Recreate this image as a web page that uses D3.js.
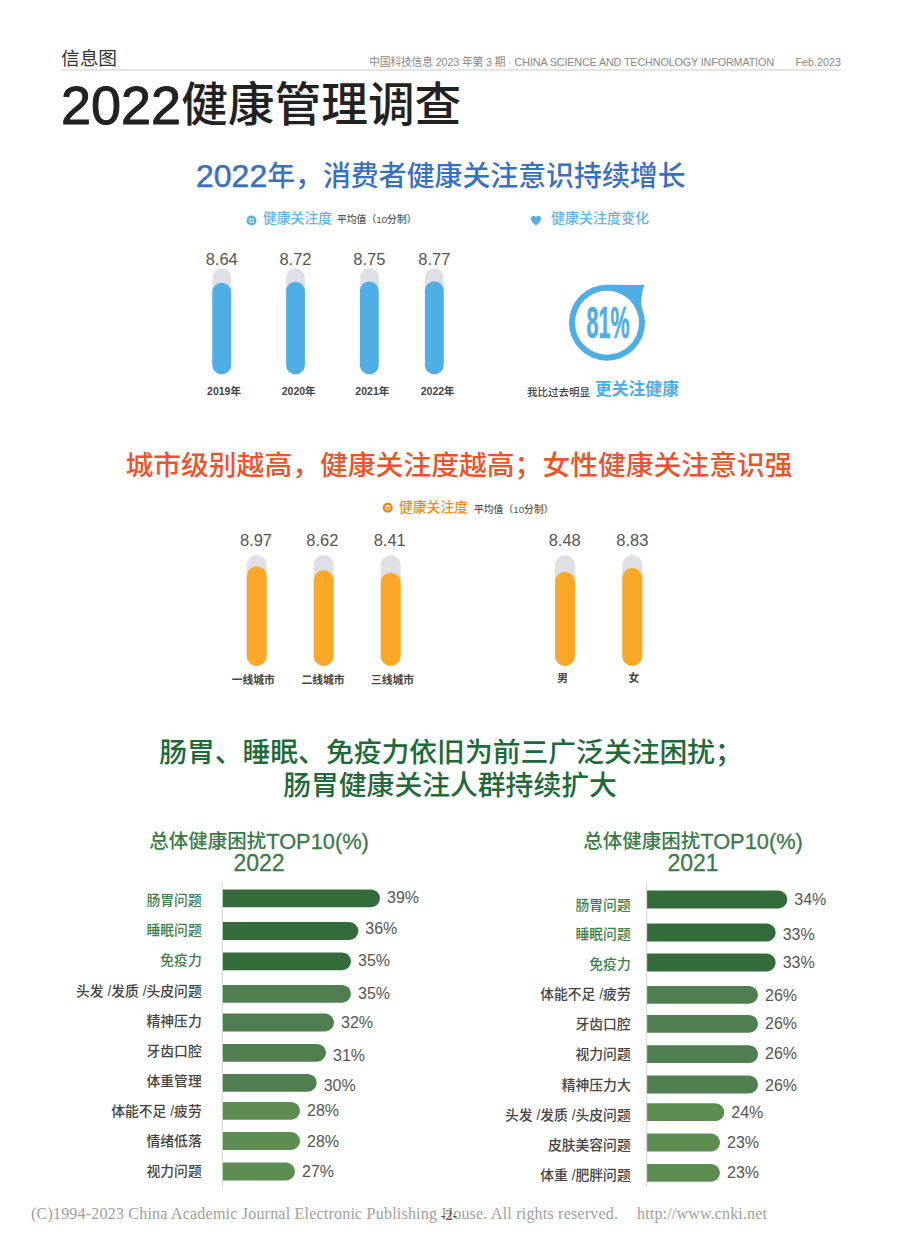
<!DOCTYPE html>
<html>
<head>
<meta charset="utf-8">
<script src="https://cdn.jsdelivr.net/npm/d3@7/dist/d3.min.js"></script>
<style>
html, body { margin: 0; padding: 0; background: #fff; }
svg { display: block; }
text { font-family: "Liberation Sans", "Noto Sans CJK SC", sans-serif; dominant-baseline: central; }
.num { fill: #555; font-size: 16.5px; }
</style>
</head>
<body>
<div id="page"></div>
<script>
// –––––––––––––––––– DATA ––––––––––––––––––
var years = ["2019年", "2020年", "2021年", "2022年"];
var yearScores = [8.64, 8.72, 8.75, 8.77];

var cityLevels = ["一线城市", "二线城市", "三线城市"];
var cityScores = [8.97, 8.62, 8.41];
var genders = ["男", "女"];
var genderScores = [8.48, 8.83];

var moreCareShare = 81;

var issues2022 = ["肠胃问题", "睡眠问题", "免疫力", "头发 /发质 /头皮问题", "精神压力", "牙齿口腔", "体重管理", "体能不足 /疲劳", "情绪低落", "视力问题"];
var shares2022 = [39, 36, 35, 35, 32, 31, 30, 28, 28, 27];
var issues2021 = ["肠胃问题", "睡眠问题", "免疫力", "体能不足 /疲劳", "牙齿口腔", "视力问题", "精神压力大", "头发 /发质 /头皮问题", "皮肤美容问题", "体重 /肥胖问题"];
var shares2021 = [34, 33, 33, 26, 26, 26, 26, 24, 23, 23];

// –––––––––––––––––– SVG SETUP ––––––––––––––––––
var svgWidth = 920;
var svgHeight = 1249;
var svg = d3.select("#page").append("svg")
	.attr("width", svgWidth)
	.attr("height", svgHeight);

function label(x, y, str, size, color, anchor, weight) {
	return svg.append("text")
		.attr("x", x).attr("y", y)
		.attr("font-size", size)
		.attr("fill", color)
		.attr("text-anchor", anchor || "start")
		.attr("font-weight", weight || 400)
		.text(str);
}

// same line, latin and chinese runs at their own sizes (the source headings mix them)
// third item thickens the latin run, Liberation has no medium weight
function mixed(x, y, parts, color, anchor, weight) {
	var t = label(x, y, "", parts[0][1], color, anchor, weight);
	parts.forEach(p => {
		var s = t.append("tspan").attr("font-size", p[1]).text(p[0]);
		if (p[2]) s.attr("stroke", color).attr("stroke-width", p[2]);
	});
	return t;
}

// –––––––––––––––––– HEADER ––––––––––––––––––
label(61, 58, "信息图", 18.7, "#333");
label(369, 61.7, "中国科技信息 2023 年第 3 期 · CHINA SCIENCE AND TECHNOLOGY INFORMATION", 10.8, "#888").attr("textLength", 405);
label(841, 61.7, "Feb.2023", 10.8, "#888", "end");
svg.append("line").attr("x1", 61).attr("x2", 841).attr("y1", 70).attr("y2", 70).attr("stroke", "#ccc");
mixed(61, 105, [["2022", 54, 1], ["健康管理调查", 46.7]], "#222", "start", 500);

// –––––––––––––––––– GAUGE COLUMNS ––––––––––––––––––
var scoreFormat = d3.format(".2f");

// track + fill pill for every category; the x scales are ordinal because the source columns are unevenly spaced
function gauges(opts) {
	var y = d3.scaleLinear().domain([0, 10]).range(opts.yRange);
	var x = d3.scaleOrdinal().domain(opts.cats).range(opts.xs);
	var xCat = d3.scaleOrdinal().domain(opts.cats).range(opts.catXs);
	var xVal = d3.scaleOrdinal().domain(opts.cats).range(opts.valXs);
	var g = svg.append("g");
	var w = opts.barWidth;

	g.selectAll(".track").data(opts.cats).enter().append("rect")
		.attr("x", d => x(d) - w / 2).attr("width", w)
		.attr("y", y(10)).attr("height", y(0) - y(10))
		.attr("rx", w / 2)
		.attr("fill", "#dfdfe6");

	g.selectAll(".fill").data(opts.cats).enter().append("rect")
		.attr("x", d => x(d) - w / 2).attr("width", w)
		.attr("y", (d, i) => y(opts.vals[i])).attr("height", (d, i) => y(0) - y(opts.vals[i]))
		.attr("rx", w / 2)
		.attr("fill", opts.color);

	g.selectAll(".num").data(opts.cats).enter().append("text")
		.attr("class", "num")
		.attr("x", xVal).attr("y", opts.valY)
		.attr("text-anchor", "middle")
		.text((d, i) => scoreFormat(opts.vals[i]));

	g.selectAll(".cat").data(opts.cats).enter().append("text")
		.attr("x", xCat).attr("y", opts.catY)
		.attr("text-anchor", "middle")
		.attr("font-size", opts.catSize)
		.attr("font-weight", 700)
		.attr("fill", "#444")
		.text(d => d);
}

function eyeIcon(cx, cy, color) {
	svg.append("circle").attr("cx", cx).attr("cy", cy).attr("r", 5).attr("fill", color);
	svg.append("circle").attr("cx", cx).attr("cy", cy).attr("r", 2.6).attr("fill", "#fff");
	svg.append("circle").attr("cx", cx).attr("cy", cy).attr("r", 1.5).attr("fill", color);
}

// blue block
mixed(196, 176, [["2022", 32, 0.5], ["年，消费者健康关注意识持续增长", 27.9]], "#3a70c0", "start", 500);
eyeIcon(251.5, 220.5, "#55b0e4");
label(263, 218, "健康关注度", 13.8, "#62b5e5", "start", 500);
label(337, 219, "平均值（10分制）", 9.8, "#555", "start", 500);
svg.append("path")
	.attr("d", "M536 225.5 C531 222 530.5 219 531 217.5 C532 215.5 535 215.5 536 217 C537 215.5 540 215.5 541 217.5 C541.5 219 541 222 536 225.5 Z")
	.attr("fill", "#55b0e4");
label(551, 218, "健康关注度变化", 14, "#62b5e5", "start", 500);

gauges({
	cats: years, vals: yearScores, xs: [221.7, 295.5, 369.3, 434.3],
	yRange: [374.3, 268.3], barWidth: 18.8, color: "#50aee6",
	valXs: [221.7, 295.5, 369.3, 434.3], valY: 259,
	catXs: [224, 298.7, 372.3, 437.7], catY: 391, catSize: 10.5
});

// 81% drop ring
var ring = d3.path();
ring.moveTo(607, 284.7);
ring.lineTo(644.5, 285);
ring.quadraticCurveTo(638, 300, 645, 322.7);
ring.lineTo(607, 322.7);
ring.closePath();
svg.append("path").attr("d", ring.toString()).attr("fill", "#50aee6");
svg.append("circle").attr("cx", 607).attr("cy", 322.7).attr("r", 38).attr("fill", "#50aee6");
svg.append("circle").attr("cx", 607).attr("cy", 322.7).attr("r", 32).attr("fill", "#fff");
label(608, 322, moreCareShare + "%", 45, "#50aee6", "middle", 700)
	.style("font-family", "'Liberation Sans Narrow', 'Liberation Sans', sans-serif")
	.attr("stroke", "#50aee6").attr("stroke-width", 0.6)
	.attr("textLength", 43)
	.attr("lengthAdjust", "spacingAndGlyphs");
label(527, 391.5, "我比过去明显", 10.5, "#444", "start", 500);
label(595, 389.5, "更关注健康", 16.8, "#50aee6", "start", 700);

// orange block
label(459, 465, "城市级别越高，健康关注度越高；女性健康关注意识强", 27.8, "#f0522a", "middle", 500);
eyeIcon(387.7, 507.7, "#f58220");
label(399, 507, "健康关注度", 13.8, "#f98a1c", "start", 500);
label(474, 509, "平均值（10分制）", 9.8, "#555", "start", 500);

gauges({
	cats: cityLevels, vals: cityScores, xs: [256.7, 323.7, 390.7],
	yRange: [666, 555], barWidth: 20, color: "#fba829",
	valXs: [256, 322.3, 389.7], valY: 539.5,
	catXs: [253.3, 323, 392.5], catY: 680, catSize: 10.8
});
gauges({
	cats: genders, vals: genderScores, xs: [565, 632.3],
	yRange: [666, 555], barWidth: 20, color: "#fba829",
	valXs: [564.7, 632.3], valY: 539.5,
	catXs: [562.7, 634], catY: 678, catSize: 10.8
});

// –––––––––––––––––– GREEN BARS ––––––––––––––––––
label(451, 752, "肠胃、睡眠、免疫力依旧为前三广泛关注困扰；", 27.8, "#1f6a3a", "middle", 500);
label(450, 785, "肠胃健康关注人群持续扩大", 27.8, "#1f6a3a", "middle", 500);

var shareFormat = d => d + "%";

function barColor(i) {
	if (i < 3) return "#346b3a";
	if (i < 7) return "#4f7f50";
	return "#5e8d52";
}

// square on the axis, round on the value end
function barPath(x0, x1, yc, h) {
	var r = h / 2;
	var p = d3.path();
	p.moveTo(x0, yc - r);
	p.lineTo(x1 - r, yc - r);
	p.arc(x1 - r, yc, r, -Math.PI / 2, Math.PI / 2);
	p.lineTo(x0, yc + r);
	p.closePath();
	return p.toString();
}

function bars(opts) {
	var g = svg.append("g");
	// the source bars are not proportional to the printed shares, so the scale is piecewise
	var x = d3.scaleLinear().domain(opts.xDomain).range(opts.xRange);
	var rows = d3.range(opts.cats.length);
	var barY = d3.scaleOrdinal().domain(rows).range(opts.barRows);
	var catY = d3.scaleOrdinal().domain(rows).range(opts.catRows);
	var valY = d3.scaleOrdinal().domain(rows).range(opts.valRows);

	mixed(opts.titleX, 840.5, [["总体健康困扰", 19.5], ["TOP10(%)", 21.8, 0.3]], "#3a7a48", "middle", 500);
	label(opts.titleX, 863, opts.year, 23, "#3a7a48", "middle", 500).attr("stroke", "#3a7a48").attr("stroke-width", 0.3);

	g.selectAll("path").data(rows).enter().append("path")
		.attr("d", i => barPath(opts.x0, x(opts.vals[i]), barY(i), 17.8))
		.attr("fill", barColor);

	g.append("line")
		.attr("x1", opts.x0).attr("x2", opts.x0)
		.attr("y1", 882).attr("y2", 1187)
		.attr("stroke", "#d4d4d4").attr("stroke-width", 1);

	g.selectAll(".cat").data(rows).enter().append("text")
		.attr("x", opts.catX).attr("y", catY)
		.attr("text-anchor", "end")
		.attr("font-size", 13.8)
		.attr("font-weight", 500)
		.attr("fill", i => i < 3 ? "#3f7f4a" : "#444")
		.text(i => opts.cats[i]);

	g.selectAll(".num").data(rows).enter().append("text")
		.attr("class", "num")
		.style("font-size", "16px")
		.attr("x", i => x(opts.vals[i]) + 7).attr("y", valY)
		.text(i => shareFormat(opts.vals[i]));
}

bars({
	cats: issues2022, vals: shares2022, year: "2022", titleX: 259,
	x0: 222.3, catX: 201.7,
	xDomain: [27, 28, 30, 31, 32, 35, 36, 39],
	xRange: [295, 300, 316.7, 326, 334, 351, 358.3, 380],
	barRows: [898.3, 931, 961.3, 993.8, 1022.5, 1052.8, 1082.8, 1110.8, 1141, 1171.5],
	catRows: [900.7, 930.3, 960.3, 991, 1021, 1051, 1081, 1111, 1141, 1171.7],
	valRows: [897.7, 928.3, 960.7, 993.7, 1022.7, 1055, 1085, 1110, 1141.7, 1171.7]
});

bars({
	cats: issues2021, vals: shares2021, year: "2021", titleX: 693,
	x0: 646.7, catX: 630.7,
	xDomain: [23, 24, 26, 33, 34],
	xRange: [720, 724.3, 758, 775.7, 787.3],
	barRows: [899.5, 932.5, 962.5, 994.8, 1023.8, 1054.2, 1084.5, 1112.2, 1142.5, 1172.8],
	catRows: [905.3, 934.7, 964.7, 994.7, 1024.7, 1054.7, 1085, 1115, 1145, 1175],
	valRows: [899.3, 934.3, 962.7, 995, 1023.3, 1053.3, 1085.7, 1112.7, 1142.7, 1172.7]
});

// –––––––––––––––––– FOOTER ––––––––––––––––––
label(31, 1213, "(C)1994-2023 China Academic Journal Electronic Publishing House. All rights reserved.", 16, "#a0a0a0")
	.style("font-family", "'Liberation Serif', serif").attr("textLength", 587);
label(637, 1213, "http://www.cnki.net", 16, "#a0a0a0")
	.style("font-family", "'Liberation Serif', serif").attr("textLength", 130);
label(449, 1215, "-2-", 14, "#444", "middle")
	.style("font-family", "'Liberation Serif', serif");
</script>
</body>
</html>
